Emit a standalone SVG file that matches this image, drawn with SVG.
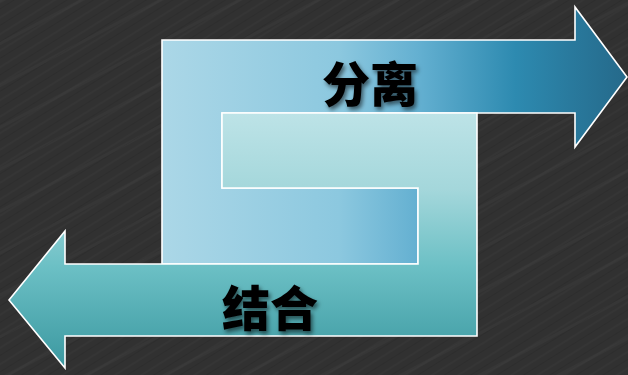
<svg xmlns="http://www.w3.org/2000/svg" width="628" height="375" viewBox="0 0 628 375">
  <defs>
    <pattern id="streaks" width="14" height="14" patternUnits="userSpaceOnUse" patternTransform="rotate(-32)">
      <rect x="0" y="0" width="14" height="2" fill="#3b3b3b" opacity="0.35"/>
      <rect x="0" y="7" width="14" height="1" fill="#262626" opacity="0.3"/>
    </pattern>
    <pattern id="streaks2" width="37" height="37" patternUnits="userSpaceOnUse" patternTransform="rotate(-28)">
      <rect x="0" y="0" width="37" height="3" fill="#424242" opacity="0.3"/>
    </pattern>
    <linearGradient id="gTop" gradientUnits="userSpaceOnUse" x1="162" y1="0" x2="627" y2="0">
      <stop offset="0" stop-color="#abd7e7"/>
      <stop offset="0.38" stop-color="#8cc8df"/>
      <stop offset="0.55" stop-color="#64b0d1"/>
      <stop offset="0.76" stop-color="#2d8ab0"/>
      <stop offset="1" stop-color="#25698a"/>
    </linearGradient>
    <linearGradient id="gBot" gradientUnits="userSpaceOnUse" x1="0" y1="113" x2="0" y2="368">
      <stop offset="0" stop-color="#bde3e7"/>
      <stop offset="0.3" stop-color="#a4d7db"/>
      <stop offset="0.6" stop-color="#6cc0c5"/>
      <stop offset="1" stop-color="#3b98a0"/>
    </linearGradient>
    <filter id="shadow" x="-20%" y="-20%" width="140%" height="140%">
      <feDropShadow dx="2" dy="3" stdDeviation="2" flood-color="#000" flood-opacity="0.55"/>
    </filter>
  </defs>
  <style>
    .arrow { stroke: #ffffff; stroke-width: 1.6; stroke-linejoin: miter; }
    .label { font-family: "Noto Sans CJK SC", "Noto Sans", sans-serif; font-weight: 900; font-size: 48px; fill: #000; text-anchor: middle; filter: url(#shadow); }
  </style>
  <rect x="0" y="0" width="628" height="375" fill="#313131"/>
  <rect x="0" y="0" width="628" height="375" fill="url(#streaks)"/>
  <rect x="0" y="0" width="628" height="375" fill="url(#streaks2)"/>

  <g id="arrow-separate">
    <path class="arrow" fill="url(#gTop)" d="M418,188 L418,264 L162,264 L162,40 L575,40 L575,7 L627,77 L575,147 L575,113 L222,113 L222,188 Z"/>
    <text class="label" x="370" y="102">分离</text>
  </g>
  <g id="arrow-combine">
    <path class="arrow" fill="url(#gBot)" d="M222,113 L477,113 L477,336 L65,336 L65,368 L9,300 L65,231 L65,264 L418,264 L418,188 L222,188 Z"/>
    <text class="label" x="270" y="326">结合</text>
  </g>
  <g id="connectors"/>
</svg>
